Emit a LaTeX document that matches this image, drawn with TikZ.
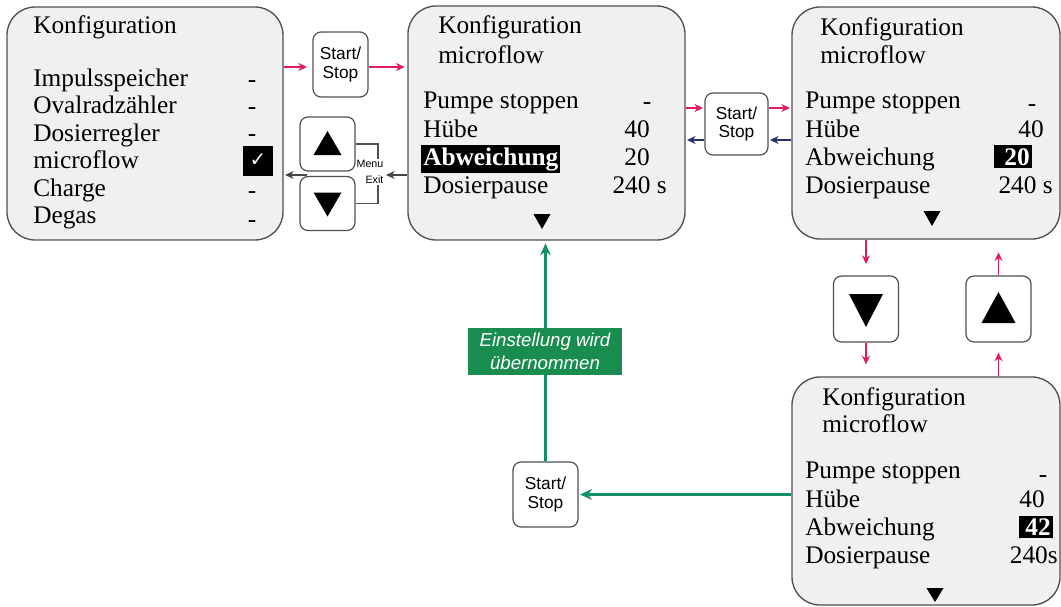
\documentclass[tikz,border=0pt]{standalone}
\usepackage{fontspec}
\setmainfont{Liberation Serif}
\setsansfont{Liberation Sans}
\newfontfamily\symfont{DejaVu Sans}
\usetikzlibrary{arrows.meta}
\definecolor{pinkc}{RGB}{226,27,90}
\definecolor{bluec}{RGB}{40,50,115}
\definecolor{greenc}{RGB}{20,145,100}
\definecolor{greenfill}{RGB}{25,140,80}
\definecolor{darkarrow}{RGB}{70,70,70}
\definecolor{boxfill}{RGB}{240,240,240}
\definecolor{boxline}{RGB}{80,80,80}
\tikzset{
  screen/.style={draw=boxline, line width=1pt, fill=boxfill, rounded corners=21pt, inner sep=0pt},
  keybox/.style={draw=boxline, line width=0.9pt, fill=white, rounded corners=6pt, inner sep=0pt,
     font=\sffamily\fontsize{13}{14}\selectfont, align=center},
  tl/.style={anchor=base west, inner sep=0pt, font=\fontsize{19}{21}\selectfont},
  tv/.style={anchor=base east, inner sep=0pt, font=\fontsize{19}{21}\selectfont},
  tc/.style={anchor=base, inner sep=0pt, font=\fontsize{19}{21}\selectfont},
  hl/.style={fill=black, text=white, font=\bfseries\fontsize{19}{21}\selectfont, inner xsep=1.5pt, inner ysep=2pt},
  pinkarrow/.style={draw=pinkc, line width=1.4pt, -{Stealth[length=6.5pt,width=6pt]}},
  bluearrow/.style={draw=bluec, line width=1.4pt, -{Stealth[length=6.5pt,width=6pt]}},
  darkarrowst/.style={draw=darkarrow, line width=1.4pt, -{Stealth[length=6.5pt,width=6pt]}},
  greenline/.style={draw=greenc, line width=2pt},
  greenarrow/.style={draw=greenc, line width=2pt, -{Stealth[length=9pt,width=8pt]}},
  tri/.style={fill=black}
}
\begin{document}
\begin{tikzpicture}[x=0.75pt,y=-0.75pt]
\useasboundingbox (0,0) rectangle (1061,607);

% screens
\node[screen, minimum width=207pt, minimum height=174.75pt] (box1) at (145,123.5) {};
\node[screen, minimum width=207.75pt, minimum height=175.5pt] (box2) at (546.5,123) {};
\node[screen, minimum width=201pt, minimum height=174pt] (box3) at (926,123) {};
\node[screen, minimum width=201pt, minimum height=171pt] (box4) at (926,491) {};

% keys
\node[keybox, minimum width=41.25pt, minimum height=48.75pt] (ss1) at (340.5,64.5) {Start/\\Stop};
\node[keybox, minimum width=47.25pt, minimum height=46.5pt] (ss2) at (736.5,124) {Start/\\Stop};
\node[keybox, minimum width=48.75pt, minimum height=48.75pt] (ss3) at (545.5,494.5) {Start/\\Stop};
\node[keybox, minimum width=41.25pt, minimum height=40.5pt] (up1) at (327.5,144) {};
\node[keybox, minimum width=41.25pt, minimum height=40.5pt] (down1) at (327.5,203.5) {};
\node[keybox, minimum width=48.75pt, minimum height=49.5pt] (down2) at (866,309) {};
\node[keybox, minimum width=48.75pt, minimum height=49.5pt] (up2) at (998.5,309) {};

% key triangles
\fill[tri, shift={(up1.center)}] (-14,11) -- (14,11) -- (0,-13) -- cycle;
\fill[tri, shift={(down1.center)}] (-14,-11) -- (14,-11) -- (0,13) -- cycle;
\fill[tri, shift={(down2.center)}] (-17,-15) -- (17,-15) -- (0,18) -- cycle;
\fill[tri, shift={(up2.center)}] (-17,14) -- (17,14) -- (0,-17) -- cycle;

% box1 text
\node[tl] (b1t) at (33,33) {Konfiguration};
\node[tl] (b1a) at (33,86) {Impulsspeicher};
\node[tl] (b1b) at (33,113.5) {Ovalradzähler};
\node[tl] (b1c) at (33,141) {Dosierregler};
\node[tl] (b1d) at (33,168.5) {microflow};
\node[tl] (b1e) at (33,196) {Charge};
\node[tl] (b1f) at (33,223.5) {Degas};
\node[tc] (b1va) at (252,87) {-};
\node[tc] (b1vb) at (252,114) {-};
\node[tc] (b1vc) at (252,141.5) {-};
\node[tc] (b1ve) at (252,198.5) {-};
\node[tc] (b1vf) at (252,227) {-};
\node[fill=black, text=white, minimum size=22.5pt, inner sep=0pt, font=\symfont\fontsize{15}{15}\selectfont] (chk) at (258,160.5) {✓};

% box2 text
\node[tl] (b2t) at (438,33) {Konfiguration};
\node[tl] (b2u) at (438,63) {microflow};
\node[tl] (b2a) at (423,108) {Pumpe stoppen};
\node[tl] (b2b) at (423,137) {Hübe};
\node[tl, hl] (b2c) at (421,165) {Abweichung};
\node[tl] (b2d) at (423,193) {Dosierpause};
\node[tc] (b2va) at (647,109) {-};
\node[tv] (b2vb) at (650,137) {40};
\node[tv] (b2vc) at (650,165) {20};
\node[tv] (b2vd) at (667,193) {240 s};
\fill[tri] (533.5,214) -- (550.5,214) -- (542,229) -- cycle;

% box3 text
\node[tl] (b3t) at (820,35) {Konfiguration};
\node[tl] (b3u) at (820,63) {microflow};
\node[tl] (b3a) at (805,108) {Pumpe stoppen};
\node[tl] (b3b) at (805,137) {Hübe};
\node[tl] (b3c) at (805,165) {Abweichung};
\node[tl] (b3d) at (805,193) {Dosierpause};
\node[tc] (b3va) at (1032,111) {-};
\node[tv] (b3vb) at (1044,137) {40};
\node[tv, hl] (b3vc) at (1032,165) {\,\,20};
\node[tv] (b3vd) at (1053,193) {240 s};
\fill[tri] (923.5,211) -- (940.5,211) -- (932,226) -- cycle;

% box4 text
\node[tl] (b4t) at (822,405) {Konfiguration};
\node[tl] (b4u) at (822,432) {microflow};
\node[tl] (b4a) at (805,478) {Pumpe stoppen};
\node[tl] (b4b) at (805,507) {Hübe};
\node[tl] (b4c) at (805,535) {Abweichung};
\node[tl] (b4d) at (805,563) {Dosierpause};
\node[tc] (b4va) at (1043,482) {-};
\node[tv] (b4vb) at (1045,507) {40};
\node[tv, hl] (b4vc) at (1053,535) {\,42};
\node[tv] (b4vd) at (1058,563) {240s};
\fill[tri] (926.5,588) -- (943.5,588) -- (935,602) -- cycle;

% Menu / Exit bracket
\coordinate (bx) at (378,0);
\draw[draw=boxline, line width=0.8pt] (up1.east) -- (up1.east -| bx) -- (down1.east -| bx) -- (down1.east);
\node[fill=white, inner sep=0.6pt, align=right, font=\sffamily\fontsize{8}{12.5}\selectfont] (menu) at (370,172) {Menu\\Exit};
\coordinate (mx) at (386,175);
\coordinate (ml) at (307,175);

% arrows top left
\draw[pinkarrow, shorten >=4pt] (box1.east |- 0,67) -- (ss1.west |- 0,67);
\draw[pinkarrow, shorten >=2pt] (ss1.east |- 0,67) -- (box2.west |- 0,67);
\draw[darkarrowst] (box2.west |- mx) -- (mx);
\draw[darkarrowst, shorten >=1pt] (ml) -- (box1.east |- ml);

% arrows around ss2
\draw[pinkarrow, shorten >=1pt] (box2.east |- 0,108) -- (ss2.west |- 0,108);
\draw[pinkarrow, shorten >=1pt] (ss2.east |- 0,108) -- (box3.west |- 0,108);
\draw[bluearrow, shorten >=1pt] (ss2.west |- 0,140) -- (box2.east |- 0,140);
\draw[bluearrow, shorten >=1pt] (box3.west |- 0,140) -- (ss2.east |- 0,140);

% arrows right column
\draw[pinkarrow, shorten >=8.5pt] (down2 |- box3.south) -- (down2.north);
\draw[pinkarrow, shorten >=9pt] (down2.south) -- (down2 |- box4.north);
\draw[pinkarrow, shorten >=7.5pt] (up2 |- box4.north) -- (up2.south);
\draw[pinkarrow, shorten >=9.5pt] (up2.north) -- (up2 |- box3.south);

% green path
\node[fill=greenfill, text=white, inner sep=0pt, minimum width=115.5pt, minimum height=35.25pt, align=center,
      font=\sffamily\itshape\fontsize{14}{17}\selectfont] (lbl) at (545,351.5) {Einstellung wird\\übernommen};
\draw[greenarrow, shorten >=1pt] (box4.west |- ss3.east) -- (ss3.east);
\draw[greenline] (ss3.north) -- (ss3 |- lbl.south);
\draw[greenarrow, shorten >=2pt] (ss3 |- lbl.north) -- (ss3 |- box2.south);
\end{tikzpicture}
\end{document}
